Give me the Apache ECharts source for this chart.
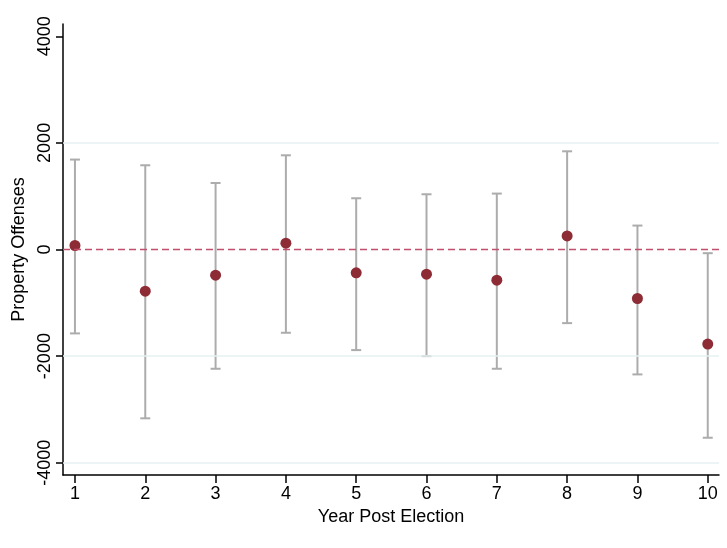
<!DOCTYPE html>
<html>
<head>
<meta charset="utf-8">
<script src="https://cdn.jsdelivr.net/npm/echarts@6/dist/echarts.min.js"></script>
<style>html,body{margin:0;padding:0;background:#fff}#c{width:727px;height:548px}</style>
</head>
<body>
<div id="c"></div>
<script>
const years = [1, 2, 3, 4, 5, 6, 7, 8, 9, 10];
const estimates = [75, -781, -482, 118, -438, -463, -575, 255, -919, -1775];
const upper = [1687, 1580, 1248, 1767, 961, 1036, 1049, 1842, 449, -69];
const lower = [-1574, -3167, -2237, -1562, -1887, -2000, -2237, -1381, -2343, -3531];
const yTicks = [-4000, -2000, 0, 2000, 4000];
const gridValues = [-4000, -2000, 2000];
const xTitle = 'Year Post Election';
const yTitle = 'Property Offenses';

const font = '"Liberation Sans", Arial, sans-serif';
const chart = echarts.init(document.getElementById('c'), null, {renderer: 'canvas'});
const barData = years.map((x, i) => [x, lower[i], upper[i]]);
const pointData = years.map((x, i) => [x, estimates[i]]);

chart.setOption({
  animation: false,
  grid: {left: 63, right: 8, top: 24, bottom: 73},
  xAxis: {
    type: 'value', min: 0.83, max: 10.16,
    name: xTitle, nameLocation: 'middle', nameGap: 33,
    nameTextStyle: {fontFamily: font, fontSize: 18, color: '#000'},
    axisLine: {show: true, onZero: false, lineStyle: {color: '#000', width: 1.5}},
    axisTick: {show: true, length: 8, customValues: years, lineStyle: {color: '#000', width: 1.5}},
    axisLabel: {customValues: years, margin: 10, fontFamily: font, fontSize: 18, color: '#000'},
    splitLine: {show: false}
  },
  yAxis: {
    type: 'value', min: -4230, max: 4230,
    name: yTitle, nameLocation: 'middle', nameGap: 32, nameRotate: 90,
    nameTextStyle: {fontFamily: font, fontSize: 18, color: '#000'},
    axisLine: {show: true, onZero: false, lineStyle: {color: '#000', width: 1.5}},
    axisTick: {show: true, length: 7, customValues: yTicks, lineStyle: {color: '#000', width: 1.5}},
    axisLabel: {
      customValues: yTicks, rotate: 90, margin: 9, align: 'center', verticalAlign: 'bottom',
      formatter: v => String(v), fontFamily: font, fontSize: 18, color: '#000'
    },
    splitLine: {show: false}
  },
  series: [
    {
      type: 'line', data: [], z: 1, silent: true,
      markLine: {
        silent: true, symbol: 'none', label: {show: false},
        lineStyle: {color: '#e6f0f2', width: 1.5, type: 'solid'},
        data: gridValues.map(v => ({yAxis: v}))
      }
    },
    {
      type: 'line', data: [], z: 2, silent: true,
      markLine: {
        silent: true, symbol: 'none', label: {show: false},
        lineStyle: {color: '#c2506c', width: 1.3, type: [7, 4], opacity: 1},
        data: [{yAxis: 0}]
      }
    },
    {
      type: 'custom', z: 3, data: barData,
      renderItem: function (params, api) {
        const x = api.value(0);
        const lo = api.coord([x, api.value(1)]);
        const hi = api.coord([x, api.value(2)]);
        const cap = 5;
        const style = {stroke: '#acacac', lineWidth: 2};
        return {
          type: 'group',
          children: [
            {type: 'line', shape: {x1: hi[0], y1: hi[1], x2: lo[0], y2: lo[1]}, style: style},
            {type: 'line', shape: {x1: hi[0] - cap, y1: hi[1], x2: hi[0] + cap, y2: hi[1]}, style: style},
            {type: 'line', shape: {x1: lo[0] - cap, y1: lo[1], x2: lo[0] + cap, y2: lo[1]}, style: style}
          ]
        };
      }
    },
    {
      type: 'scatter', z: 4, data: pointData, symbol: 'circle', symbolSize: 11,
      itemStyle: {color: '#8e2c36', opacity: 1}
    }
  ]
});
</script>
</body>
</html>
